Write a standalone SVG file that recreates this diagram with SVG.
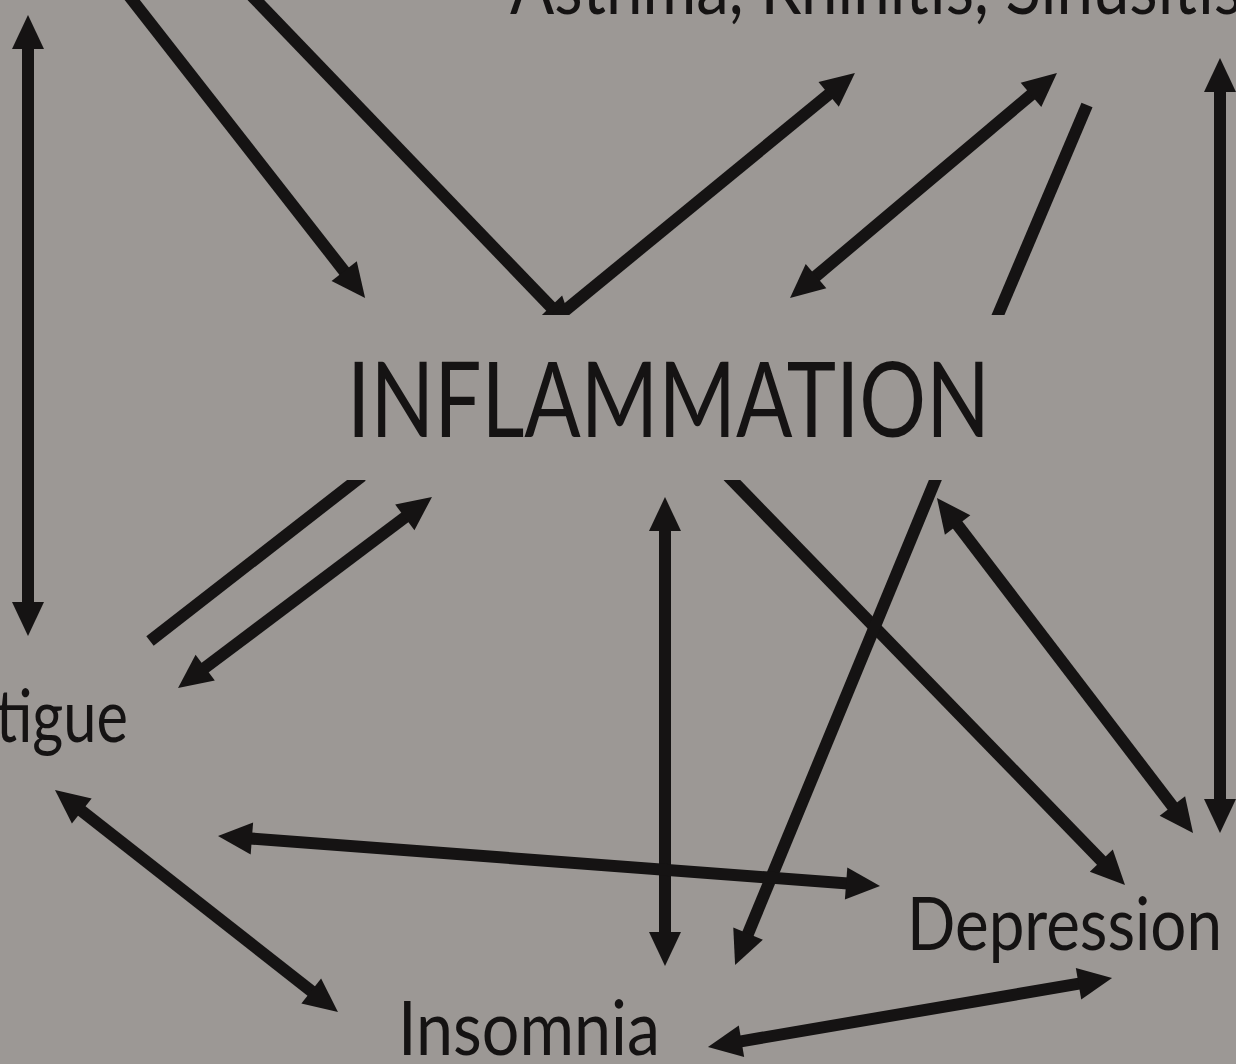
<svg xmlns="http://www.w3.org/2000/svg" width="1236" height="1064" viewBox="0 0 1236 1064">
<style>
.bg{fill:#9c9895}
.lbl{font-family:Lato,"Open Sans","Liberation Sans",sans-serif;fill:#151313}
.c{stroke:#151313;stroke-width:12;fill:none}
.h{marker-end:url(#ah)}
.d{marker-start:url(#ah);marker-end:url(#ah)}
</style>
<defs>
<marker id="ah" markerUnits="userSpaceOnUse" markerWidth="34" markerHeight="32" refX="2" refY="16" orient="auto-start-reverse" overflow="visible">
<path d="M0,0 L34,16 L0,32 Z" fill="#151313"/>
</marker>
<clipPath id="clipInf">
<path clip-rule="evenodd" d="M0,0 H1236 V1064 H0 Z M300,315 H1040 V480 H300 Z"/>
</clipPath>
</defs>
<rect class="bg" x="0" y="0" width="1236" height="1064"/>
<g id="connectors" clip-path="url(#clipInf)">
<line class="c d" x1="28" y1="47" x2="28" y2="604"/>
<line class="c h" x1="126" y1="-8" x2="345.4" y2="272.7"/>
<line class="c h" x1="252" y1="-4" x2="552" y2="308"/>
<line class="c h" x1="556" y1="318" x2="830.2" y2="93.2"/>
<line class="c d" x1="814.5" y1="277.4" x2="1032.5" y2="93.6"/>
<line class="c" x1="1087" y1="105" x2="995" y2="322"/>
<line class="c d" x1="1220" y1="90" x2="1220" y2="801"/>
<line class="c" x1="150" y1="641" x2="362" y2="476"/>
<line class="c d" x1="203.6" y1="668.8" x2="406.4" y2="516.2"/>
<line class="c d" x1="665" y1="529" x2="665" y2="934"/>
<line class="c h" x1="728" y1="476" x2="1102.7" y2="862"/>
<line class="c h" x1="937" y1="476" x2="747.3" y2="935.4"/>
<line class="c d" x1="956.4" y1="523.4" x2="1173.6" y2="807.6"/>
<line class="c d" x1="249.9" y1="838.4" x2="848.1" y2="883.6"/>
<line class="c d" x1="80.2" y1="809.8" x2="312.8" y2="992.2"/>
<line class="c d" x1="739.5" y1="1041.6" x2="1080.5" y2="983.4"/>
</g>
<g id="node-asthma"><text class="lbl" x="510" y="14" font-size="76" textLength="732" lengthAdjust="spacingAndGlyphs">Asthma, Rhinitis, Sinusitis</text></g>
<g id="node-inflammation"><text class="lbl" x="347" y="437" font-size="104" textLength="643" lengthAdjust="spacingAndGlyphs">INFLAMMATION</text></g>
<g id="node-fatigue"><text class="lbl" x="-63" y="742" font-size="74" textLength="191" lengthAdjust="spacingAndGlyphs">Fatigue</text></g>
<g id="node-depression"><text class="lbl" x="907" y="950" font-size="74" textLength="315" lengthAdjust="spacingAndGlyphs">Depression</text></g>
<g id="node-insomnia"><text class="lbl" x="398" y="1055" font-size="76" textLength="262" lengthAdjust="spacingAndGlyphs">Insomnia</text></g>
</svg>
